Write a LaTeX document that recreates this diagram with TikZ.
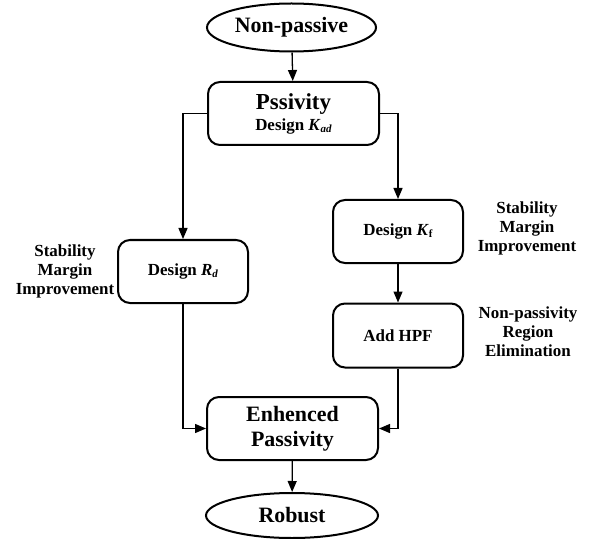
\documentclass[tikz,border=0pt]{standalone}
\usepackage{fontspec}
\setmainfont{Liberation Serif}
\usetikzlibrary{shapes.geometric,arrows.meta}
\newcommand{\bigf}{\fontsize{22}{25}\selectfont}
\newcommand{\pssf}{\fontsize{23}{25}\selectfont}
\newcommand{\medf}{\fontsize{17}{19}\selectfont}
\newcommand{\subf}{\fontsize{11}{11}\selectfont}
\begin{document}
\begin{tikzpicture}[x=1bp,y=-1bp,
  box/.style={draw,line width=2bp,rounded corners=12bp,align=center,inner sep=0pt,font=\bfseries\medf},
  oval/.style={draw,ellipse,line width=2bp,inner sep=0pt,font=\bfseries\bigf},
  conn/.style={line width=1.3bp,-{Triangle[length=11bp,width=9bp]}},
  lbl/.style={align=center,font=\bfseries\medf,inner sep=0pt}]
\useasboundingbox (0,0) rectangle (592,539);
\node[oval,minimum width=169bp,minimum height=48bp] (np) at (291.5,27.5) {Non-passive};
\node[box,minimum width=171bp,minimum height=63bp] (ps) at (293.5,113.5)
  {{\pssf Pssivity}\\[2bp]Design \textit{K}\raisebox{-2bp}{\subf\textit{ad}}};
\node[box,minimum width=130bp,minimum height=63bp] (rd) at (183,271.5)
  {Design \textit{R}\raisebox{-2bp}{\subf\textit{d}}};
\node[box,minimum width=130bp,minimum height=63bp] (kf) at (398,231.5)
  {Design \textit{K}\raisebox{-2bp}{\subf f}};
\node[box,minimum width=130bp,minimum height=64bp] (hpf) at (398,335.5)
  {Add HPF};
\node[box,font=\bfseries\bigf,minimum width=171bp,minimum height=63bp] (ep) at (292.5,428.5)
  {Enhenced\\Passivity};
\node[oval,minimum width=172bp,minimum height=45bp] (rb) at (292,515.5) {Robust};
\node[lbl] (l1) at (65,271) {Stability\\Margin\\Improvement};
\node[lbl] (l2) at (527,228) {Stability\\Margin\\Improvement};
\node[lbl] (l3) at (528,332) {Non-passivity\\Region\\Elimination};
\draw[conn] (np) -- (ps);
\draw[conn] (ps.west) -| (rd.north);
\draw[conn] (ps.east) -| (kf.north);
\draw[conn] (kf) -- (hpf);
\draw[conn] (rd.south) |- (ep.west);
\draw[conn] (hpf.south) |- (ep.east);
\draw[conn] (ep) -- (rb);
\end{tikzpicture}
\end{document}
